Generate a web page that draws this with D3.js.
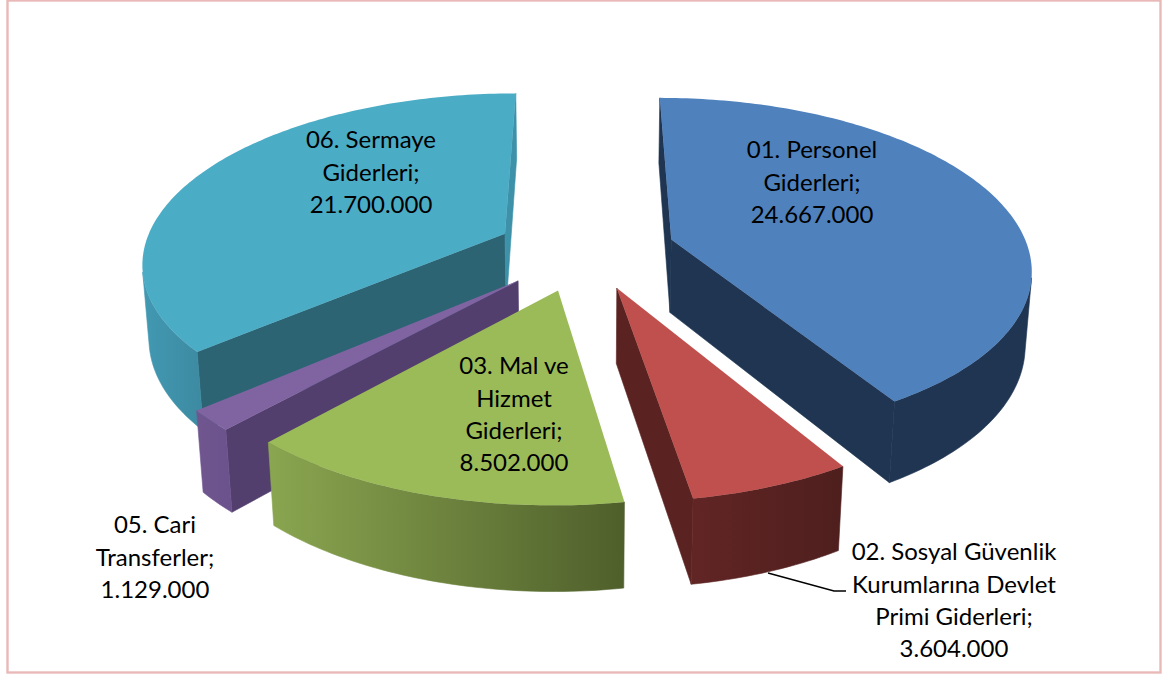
<!DOCTYPE html>
<html><head><meta charset="utf-8">
<script src="https://cdnjs.cloudflare.com/ajax/libs/d3/7.8.5/d3.min.js"></script>
<style>html,body{margin:0;padding:0;background:#fff}svg{display:block}text{font-family:Lato,"Open Sans",sans-serif;font-size:24px;fill:#000}</style>
</head><body><svg id="c" width="1171" height="675"></svg>
<script>
// ---- data ----
const categories = ["01. Personel Giderleri","02. Sosyal Güvenlik Kurumlarına Devlet Primi Giderleri","03. Mal ve Hizmet Giderleri","05. Cari Transferler","06. Sermaye Giderleri"];
const values = [24667000, 3604000, 8502000, 1129000, 21700000];
const labelLines = [["01. Personel","Giderleri;"],["02. Sosyal Güvenlik","Kurumlarına Devlet","Primi Giderleri;"],["03. Mal ve","Hizmet","Giderleri;"],["05. Cari","Transferler;"],["06. Sermaye","Giderleri;"]];
// ---- style ----
const topColors   = ["#4f81bd","#c0504d","#9bbb59","#8064a2","#4bacc6"];
const rimFrom     = ["#1f3552","#612524","#8aa650","#70568f","#4299b2"];
const rimTo       = ["#1f3552","#4e1f1e","#4f5f2b","#6c528c","#3c8aa1"];
const wallStart   = ["#1f3552","#1f3552","#4f5f2b","#533f6e","#2c6474"];
const wallEnd     = ["#1f3552","#5a2321","#6f8540","#6f5591","#3d92a9"];
// ---- layout / projection ----
const drawOrder = [4,3,0,1,2];
const labelCentre = [[812,150],[954,552],[514,366],[155,525],[371,140]];
const explodeBy = [0.25,0.23,0.24,0.25,0.25];
const shiftX    = [0,1.5,-2.5,-1.5,0];
const lineStep = 32.3, horizonW = 0.99, perspective = 0.155, depth = 0.01475;
const cx = 586, rimR = 354, vanishY = -817, yScale = 1057, downVanishY = 5260;
const sx = d3.scaleLinear().domain([-1,0,1]).range([cx-rimR*1.012, cx, cx+rimR]);
const sy = d3.scaleLinear().domain([0,1]).range([vanishY, vanishY+yScale]);
function proj(U,V,dx){const w=horizonW-perspective*V;return {x:sx(U/w)+dx,y:sy(1/w),w};}
function lower(p){const t=depth/(p.w+depth);return {x:p.x+t*(cx-p.x),y:p.y+t*(downVanishY-p.y)};}
// screen-clockwise polygons give a positive area here
const area = pts => -d3.polygonArea(pts.map(p=>[p.x,p.y]));
const line = d3.line().x(d=>d.x).y(d=>d.y);
const closed = pts => line(pts)+"Z";

const svg = d3.select("#c");
const defs = svg.append("defs");
svg.append("rect").attr("x",7.5).attr("y",0.5).attr("width",1153).attr("height",672)
   .attr("fill","#fff").attr("stroke","#e8b9b8").attr("stroke-width",2.4);

const arcs = d3.pie().sort(null).value(d=>d)(values);
const fmt = d3.formatLocale({decimal:",",thousands:".",grouping:[3],currency:["",""]}).format(",d");

drawOrder.forEach(i=>{
  const a = arcs[i], mid=(a.startAngle+a.endAngle)/2, e=explodeBy[i];
  const ox = e*Math.sin(mid), oz = -e*Math.cos(mid);
  const n = Math.max(4,Math.ceil((a.endAngle-a.startAngle)*180/Math.PI));
  const angles = d3.range(n+1).map(k=>a.startAngle+(a.endAngle-a.startAngle)*k/n);
  const rim = angles.map(t=>proj(ox+Math.sin(t),oz-Math.cos(t),shiftX[i]));
  const apex = proj(ox,oz,shiftX[i]);
  const g = svg.append("g").attr("class","slice").attr("data-name",categories[i]);

  let runs=[],cur=null;
  for(let k=0;k<n;k++){
    const q=[rim[k],rim[k+1],lower(rim[k+1]),lower(rim[k])];
    if(area(q)<0){ if(!cur){cur=[k];runs.push(cur);} cur.push(k+1);} else cur=null;
  }
  const wall = t=>{const r=t===0?rim[0]:rim[n];return [apex,r,lower(r),lower(apex)];};
  const ws=wall(0), we=wall(1);
  if(area(ws)<0) g.append("path").attr("d",closed(ws)).attr("fill",wallStart[i]).attr("stroke",wallStart[i]).attr("stroke-width",0.6);
  if(area(we)>0) g.append("path").attr("d",closed(we)).attr("fill",wallEnd[i]).attr("stroke",wallEnd[i]).attr("stroke-width",0.6);
  runs.forEach((run,ri)=>{
    const top=run.map(k=>rim[k]), bot=run.map(k=>lower(rim[k])).reverse();
    const poly=top.concat(bot), xs=poly.map(p=>p.x);
    const id="rim"+i+"_"+ri;
    const gr=defs.append("linearGradient").attr("id",id).attr("gradientUnits","userSpaceOnUse")
      .attr("x1",d3.min(xs)).attr("x2",d3.max(xs)).attr("y1",0).attr("y2",0);
    gr.append("stop").attr("offset",0).attr("stop-color",rimFrom[i]);
    gr.append("stop").attr("offset",1).attr("stop-color",rimTo[i]);
    g.append("path").attr("d",closed(poly)).attr("fill",`url(#${id})`).attr("stroke",`url(#${id})`).attr("stroke-width",0.6);
  });
  g.append("path").attr("d",closed([apex].concat(rim))).attr("fill",topColors[i]);
});

svg.append("path").attr("d",line([{x:768,y:573},{x:834,y:591},{x:846,y:591}]))
   .attr("fill","none").attr("stroke","#000").attr("stroke-width",1.4);

labelLines.forEach((ls,i)=>{
  const all=ls.concat([fmt(values[i])]);
  const t=svg.append("text").attr("text-anchor","middle");
  all.forEach((s,k)=>t.append("tspan").attr("x",labelCentre[i][0]).attr("y",labelCentre[i][1]+k*lineStep).attr("dy","0.35em").text(s));
});
</script></body></html>
